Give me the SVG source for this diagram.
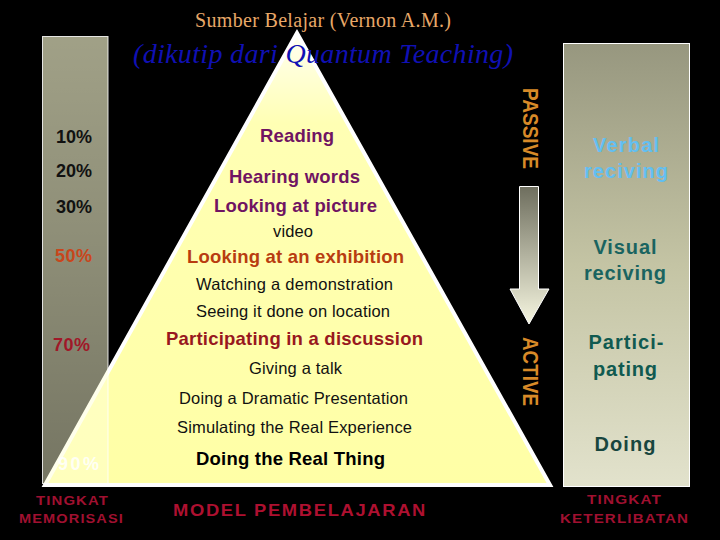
<svg xmlns="http://www.w3.org/2000/svg" width="720" height="540" viewBox="0 0 720 540">
<defs>
<linearGradient id="gLeft" x1="0" y1="0" x2="0" y2="1">
<stop offset="0" stop-color="#ffffd6" stop-opacity="0.63"/>
<stop offset="0.5" stop-color="#ffffd6" stop-opacity="0.55"/>
<stop offset="1" stop-color="#ffffd6" stop-opacity="0.46"/>
</linearGradient>
<linearGradient id="gRight" x1="0" y1="0" x2="0" y2="1">
<stop offset="0" stop-color="#97977f"/>
<stop offset="0.5" stop-color="#c4c4a4"/>
<stop offset="1" stop-color="#e2e2cc"/>
</linearGradient>
<linearGradient id="gTri" x1="0" y1="0" x2="0" y2="1">
<stop offset="0" stop-color="#fffff2"/>
<stop offset="0.2" stop-color="#ffffb4"/>
<stop offset="1" stop-color="#ffffa6"/>
</linearGradient>
<linearGradient id="gArrow" x1="0" y1="0" x2="0" y2="1">
<stop offset="0" stop-color="#6e6e5e"/>
<stop offset="1" stop-color="#f6f6e0"/>
</linearGradient>
<style>
.t{font-family:"Liberation Sans",Arial,sans-serif;}
.b{font-weight:bold;}
.m{text-anchor:middle;}
.pur{fill:#701462;}
.reg{fill:#111;font-size:16.5px;}
.big{font-size:18.5px;}
.pct{font-size:18px;font-weight:bold;}
.lab{font-size:13px;font-weight:bold;fill:#a01030;letter-spacing:1px;}
.rt{font-size:20px;font-weight:bold;}
.vt{font-size:22px;font-weight:bold;fill:#d88a28;}
</style>
</defs>
<rect width="720" height="540" fill="#000"/>

<g id="right-bar">
<rect x="563.5" y="43.5" width="126" height="443" fill="url(#gRight)" stroke="#fff" stroke-width="1"/>
<text class="t rt m" x="626" y="152" fill="#62bff2" textLength="66">Verbal</text>
<text class="t rt m" x="626" y="178" fill="#62bff2" textLength="84">reciving</text>
<text class="t rt m" x="625" y="254" fill="#1a6460" textLength="63">Visual</text>
<text class="t rt m" x="625" y="280" fill="#1a6460" textLength="82">reciving</text>
<text class="t rt m" x="626" y="349" fill="#105a50" textLength="75">Partici-</text>
<text class="t rt m" x="625" y="376" fill="#105a50" textLength="64">pating</text>
<text class="t rt m" x="625" y="451" fill="#18463e" textLength="61">Doing</text>
</g>

<g id="pyramid">
<polygon points="297,33 45,485 550,485" fill="url(#gTri)" stroke="#fff" stroke-width="4" stroke-linejoin="miter"/>
<text class="t b big m pur" x="297" y="142" textLength="74">Reading</text>
<text class="t b big m pur" x="294.5" y="183" textLength="131">Hearing words</text>
<text class="t b big m pur" x="295.5" y="212" textLength="163">Looking at picture</text>
<text class="t reg m" x="293" y="237" textLength="40">video</text>
<text class="t b big m" x="295.5" y="263" fill="#b83c10" textLength="217">Looking at an exhibition</text>
<text class="t reg m" x="294.5" y="290" textLength="197">Watching a demonstration</text>
<text class="t reg m" x="293" y="317" textLength="194">Seeing it done on location</text>
<text class="t b big m" x="294.5" y="345" fill="#98181e" textLength="257">Participating in a discussion</text>
<text class="t reg m" x="295.5" y="374" textLength="93">Giving a talk</text>
<text class="t reg m" x="293.5" y="404" textLength="229">Doing a Dramatic Presentation</text>
<text class="t reg m" x="294.5" y="433" textLength="235">Simulating the Real Experience</text>
<text class="t b big m" x="290.5" y="465" fill="#000" textLength="189">Doing the Real Thing</text>
</g>

<g id="left-bar">
<rect x="42.5" y="36.5" width="65.5" height="447" fill="url(#gLeft)" stroke="#fff" stroke-opacity="0.85" stroke-width="1"/>
<text class="t pct" x="56" y="143" fill="#111" textLength="36">10%</text>
<text class="t pct" x="56" y="177" fill="#111" textLength="36">20%</text>
<text class="t pct" x="56" y="213" fill="#111" textLength="36">30%</text>
<text class="t pct" x="55" y="262" fill="#c8461c" textLength="37">50%</text>
<text class="t pct" x="53" y="351" fill="#a01828" textLength="37">70%</text>
<text class="t pct" x="58" y="470" fill="#ffffff" fill-opacity="0.85" textLength="41">90%</text>
</g>

<g id="connectors">
<polygon points="519.5,186.5 538.5,186.5 538.5,289 549,289 529,324 510,289 519.5,289" fill="url(#gArrow)" stroke="#fff" stroke-width="1"/>
</g>

<g id="passive-active">
<text class="t vt" transform="translate(523,88) rotate(90)" x="0" y="0" textLength="81" lengthAdjust="spacingAndGlyphs">PASSIVE</text>
<text class="t vt" transform="translate(523,337) rotate(90)" x="0" y="0" textLength="69" lengthAdjust="spacingAndGlyphs">ACTIVE</text>
</g>

<g id="title">
<text x="323" y="27" font-family="'Liberation Serif',serif" font-size="20" fill="#e8a868" text-anchor="middle" textLength="256">Sumber Belajar (Vernon A.M.)</text>
<text x="323" y="63" font-family="'Liberation Serif',serif" font-size="28" font-style="italic" fill="#1010b4" text-anchor="middle" textLength="380">(dikutip dari Quantum Teaching)</text>
</g>

<g id="labels">
<text class="t b m" x="300" y="516" font-size="16.5" letter-spacing="1.5" fill="#ae1030" textLength="254" lengthAdjust="spacingAndGlyphs">MODEL PEMBELAJARAN</text>
<text class="t lab m" x="72.5" y="505" textLength="73" lengthAdjust="spacingAndGlyphs">TINGKAT</text>
<text class="t lab m" x="71.5" y="523" textLength="105" lengthAdjust="spacingAndGlyphs">MEMORISASI</text>
<text class="t lab m" x="624.5" y="504" textLength="75" lengthAdjust="spacingAndGlyphs">TINGKAT</text>
<text class="t lab m" x="624.5" y="523" textLength="129" lengthAdjust="spacingAndGlyphs">KETERLIBATAN</text>
</g>
</svg>
